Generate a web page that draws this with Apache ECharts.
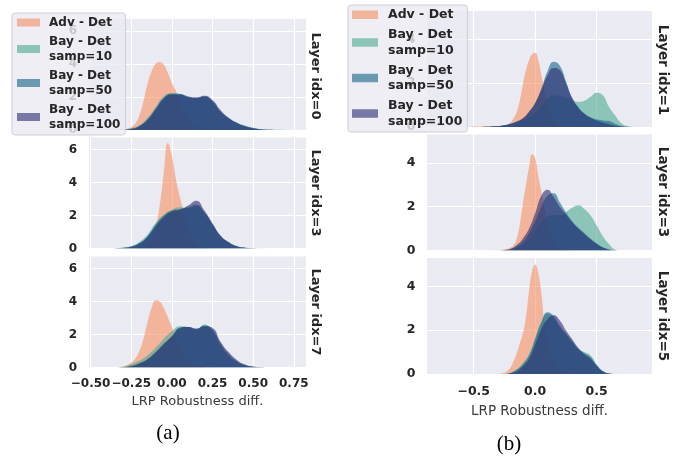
<!DOCTYPE html>
<html>
<head>
<meta charset="utf-8">
<script src="https://cdn.jsdelivr.net/npm/echarts@6/dist/echarts.min.js"></script>
<style>html,body{margin:0;padding:0;background:#fff}#c{width:692px;height:458px}</style>
</head>
<body>
<div id="c"></div>
<script>
// ---------------- DATA ----------------
const seriesNames = ['Adv - Det', 'Bay - Det\nsamp=10', 'Bay - Det\nsamp=50', 'Bay - Det\nsamp=100'];
const rowLabelsA = ['Layer idx=0', 'Layer idx=3', 'Layer idx=7'];
const rowLabelsB = ['Layer idx=1', 'Layer idx=3', 'Layer idx=5'];
const xTicksA = [-0.5, -0.25, 0, 0.25, 0.5, 0.75];
const yTicksA = [0, 2, 4, 6];
const xTicksB = [-0.5, 0, 0.5];
const yTicksB = [0, 2, 4];
const xLabel = 'LRP Robustness diff.';

// x grids of the density estimates
const xAdvA = [-0.35,-0.325,-0.3,-0.275,-0.25,-0.225,-0.2,-0.175,-0.15,-0.125,-0.1,-0.075,-0.05,-0.025,0,0.025,0.05,0.075,0.1,0.125,0.15,0.175,0.2,0.225,0.25];
const xBayA = [-0.35,-0.3,-0.25,-0.2,-0.15,-0.1,-0.05,0,0.05,0.1,0.15,0.2,0.25,0.3,0.35,0.4,0.45,0.5,0.55,0.6,0.65,0.7];
const xAdvB = [-0.55,-0.525,-0.5,-0.475,-0.45,-0.425,-0.4,-0.375,-0.35,-0.325,-0.3,-0.275,-0.25,-0.225,-0.2,-0.175,-0.15,-0.125,-0.1,-0.075,-0.05,-0.025,0,0.025,0.05,0.075,0.1,0.125,0.15,0.175,0.2,0.225,0.25,0.275,0.3];
const xBayB = [-0.55,-0.5,-0.45,-0.4,-0.35,-0.3,-0.25,-0.2,-0.15,-0.1,-0.05,0,0.05,0.1,0.15,0.2,0.25,0.3,0.35,0.4,0.45,0.5,0.55,0.6,0.65,0.7,0.75,0.8];

// (a) Layer idx=0
const advA0    = [0,0.01,0.03,0.08,0.18,0.4,0.9,1.75,2.8,3.55,4.0,4.13,3.95,3.45,2.85,2.35,1.7,1.15,0.7,0.4,0.22,0.1,0.05,0.02,0];
const bay10A0  = [0,0.02,0.1,0.3,0.75,1.4,2.05,2.25,2.2,2.05,1.95,2.0,1.7,1.1,0.72,0.45,0.27,0.13,0.05,0.02,0.01,0];
const bay50A0  = [0,0.01,0.07,0.25,0.65,1.3,1.95,2.2,2.18,2.02,1.95,2.03,1.73,1.1,0.7,0.43,0.25,0.12,0.04,0.01,0,0];
const bay100A0 = [0,0.01,0.06,0.22,0.6,1.25,1.9,2.15,2.15,2.0,1.97,2.08,1.82,1.2,0.74,0.42,0.22,0.1,0.03,0.01,0,0];
// (a) Layer idx=3
const advA3    = [0,0,0,0.01,0.02,0.03,0.05,0.09,0.2,0.55,1.3,2.6,4.6,6.4,5.6,4.2,3.1,2.1,1.2,0.6,0.28,0.12,0.05,0.02,0];
const bay10A3  = [0.02,0.06,0.15,0.4,0.85,1.55,2.05,2.35,2.5,2.45,2.55,2.15,1.45,0.75,0.4,0.15,0.06,0.02,0.01,0,0,0];
const bay50A3  = [0.01,0.04,0.12,0.33,0.75,1.45,2.0,2.3,2.4,2.5,2.65,2.2,1.48,0.76,0.38,0.14,0.05,0.02,0,0,0,0];
const bay100A3 = [0.01,0.03,0.1,0.3,0.7,1.35,1.9,2.25,2.35,2.6,2.9,2.3,1.52,0.77,0.37,0.13,0.04,0.01,0,0,0,0];
// (a) Layer idx=7
const advA7    = [0,0.02,0.06,0.15,0.3,0.55,1.0,1.75,2.75,3.6,4.08,4.0,3.6,3.05,2.45,1.9,1.3,0.8,0.45,0.22,0.1,0.04,0.02,0,0];
const bay10A7  = [0,0.05,0.2,0.42,0.75,1.2,1.75,2.2,2.5,2.45,2.3,2.6,2.2,1.3,0.7,0.32,0.12,0.04,0.01,0,0,0];
const bay50A7  = [0,0.02,0.1,0.28,0.52,0.95,1.45,1.9,2.42,2.45,2.35,2.55,2.3,1.45,0.8,0.38,0.15,0.05,0.01,0,0,0];
const bay100A7 = [0,0.01,0.07,0.22,0.48,0.9,1.4,1.88,2.38,2.45,2.35,2.5,2.4,1.55,0.92,0.46,0.18,0.06,0.02,0,0,0];

// (b) Layer idx=1
const advB1    = [0,0.01,0.02,0.02,0.02,0.03,0.03,0.03,0.04,0.04,0.05,0.06,0.08,0.12,0.22,0.4,0.7,1.2,1.95,2.6,3.05,3.32,3.38,3.05,2.4,1.7,1.1,0.65,0.35,0.17,0.08,0.04,0.02,0.01,0];
const bay10B1  = [0,0,0,0.01,0.02,0.04,0.08,0.13,0.2,0.3,0.45,0.65,0.95,1.3,1.45,1.42,1.35,1.25,1.15,1.2,1.38,1.57,1.45,0.92,0.52,0.18,0.04,0];
const bay50B1  = [0,0,0,0.01,0.02,0.04,0.08,0.15,0.25,0.4,0.7,1.1,1.75,2.55,2.98,2.8,2.1,1.3,0.9,0.62,0.45,0.35,0.3,0.27,0.15,0.05,0.01,0];
const bay100B1 = [0,0,0,0.01,0.02,0.04,0.08,0.15,0.25,0.4,0.7,1.1,1.7,2.35,2.7,2.6,2.0,1.35,0.9,0.6,0.42,0.3,0.2,0.12,0.06,0.02,0,0];
// (b) Layer idx=3
const advB3    = [0,0,0,0,0,0,0,0,0.01,0.01,0.02,0.03,0.05,0.08,0.14,0.25,0.55,1.2,2.15,3.0,3.8,4.4,4.2,3.4,2.7,2.0,1.35,0.85,0.5,0.27,0.13,0.06,0.03,0.01,0];
const bay10B3  = [0,0,0,0,0,0,0.01,0.04,0.12,0.28,0.55,0.9,1.3,1.55,1.62,1.6,1.75,1.95,2.07,1.9,1.6,1.15,0.65,0.3,0.05,0,0,0];
const bay50B3  = [0,0,0,0,0,0,0.02,0.06,0.18,0.4,0.8,1.35,2.0,2.5,2.62,2.2,1.75,1.35,1.05,0.8,0.55,0.33,0.15,0.05,0.01,0,0,0];
const bay100B3 = [0,0,0,0,0,0,0.02,0.08,0.25,0.55,1.0,1.7,2.5,2.78,2.45,2.0,1.65,1.3,1.0,0.75,0.5,0.3,0.14,0.05,0.01,0,0,0];
// (b) Layer idx=5
const advB5    = [0,0,0,0,0,0,0,0,0,0,0,0.02,0.06,0.15,0.3,0.6,0.95,1.4,1.85,2.6,3.8,4.7,5.0,4.6,3.7,2.3,1.5,0.95,0.55,0.3,0.15,0.07,0.03,0.01,0];
const bay10B5  = [0,0,0,0,0,0,0,0.06,0.22,0.5,0.9,1.65,2.4,2.75,2.55,2.15,1.8,1.45,1.15,1.0,0.85,0.45,0.15,0.03,0,0,0,0];
const bay50B5  = [0,0,0,0,0,0,0,0.05,0.2,0.45,0.85,1.6,2.35,2.82,2.65,2.2,1.85,1.5,1.15,0.95,0.78,0.4,0.12,0.02,0,0,0,0];
const bay100B5 = [0,0,0,0,0,0,0,0.03,0.12,0.35,0.7,1.35,2.05,2.5,2.68,2.45,2.0,1.6,1.2,0.9,0.7,0.38,0.12,0.02,0,0,0,0];

// ---------------- STYLE / LAYOUT ----------------
const fillColors   = ['#f99063', '#4daa91', '#156587', '#2a2c73'];
const legendColors = ['#f3b49c', '#8cc4b8', '#6a9ab2', '#7778a6'];
const FILL_OPACITY = 0.6;
const BG = '#eaeaf2';
const TXT = '#262626';

const panels = [
  { left: 89, width: 217, tops: [19, 137.5, 256.5], height: 111,
    xMin: -0.51, xMax: 0.825, yMax: 6.73, xTicks: xTicksA, yTicks: yTicksA, dec: 2,
    tickFont: 12, labelFont: 13, nameGap: 28, xMargin: 10, yMargin: 12,
    rows: rowLabelsA, rowX: 315, rowY: [76, 193, 312],
    xAdv: xAdvA, xBay: xBayA,
    data: [[advA0, bay10A0, bay50A0, bay100A0], [advA3, bay10A3, bay50A3, bay100A3], [advA7, bay10A7, bay50A7, bay100A7]],
    legend: { left: 12, top: 13, itemWidth: 23, itemHeight: 8, fontSize: 12, lineHeight: 15, itemGap: 4, padding: [2, 5, 3, 5], textPad: 4 },
    caption: '(a)', capX: 168, capY: 433 },
  { left: 427, width: 225, tops: [11, 134.5, 258], height: 116,
    xMin: -0.88, xMax: 0.95, yMax: 5.3, xTicks: xTicksB, yTicks: yTicksB, dec: 1,
    tickFont: 12.5, labelFont: 13.5, nameGap: 30, xMargin: 11, yMargin: 11.5,
    rows: rowLabelsB, rowX: 662.5, rowY: [70, 192, 316],
    xAdv: xAdvB, xBay: xBayB,
    data: [[advB1, bay10B1, bay50B1, bay100B1], [advB3, bay10B3, bay50B3, bay100B3], [advB5, bay10B5, bay50B5, bay100B5]],
    legend: { left: 348, top: 5, itemWidth: 26, itemHeight: 8.5, fontSize: 12.5, lineHeight: 15.5, itemGap: 4.5, padding: [2, 5, 3, 4], textPad: 5 },
    caption: '(b)', capX: 509, capY: 444 }
];

function fmtTick(v, dec) {
  const s = Math.abs(v).toFixed(dec);
  return (v < 0 ? '\u2212' : '') + s;
}

const grid = [], xAxis = [], yAxis = [], series = [], graphic = [], legend = [];
panels.forEach((p, pi) => {
  p.tops.forEach((top, ri) => {
    const gi = grid.length;
    const bottomRow = ri === p.tops.length - 1;
    grid.push({ left: p.left, top: top, width: p.width, height: p.height,
      show: true, backgroundColor: BG, borderWidth: 0, containLabel: false });
    xAxis.push({
      type: 'value', gridIndex: gi, min: p.xMin, max: p.xMax,
      axisLine: { show: false }, axisTick: { show: false, customValues: p.xTicks },
      splitLine: { show: true, lineStyle: { color: '#ffffff', width: 1.2 } },
      axisLabel: { show: bottomRow, customValues: p.xTicks, margin: p.xMargin,
        formatter: v => fmtTick(v, p.dec),
        fontFamily: 'DejaVu Sans', fontWeight: 'bold', fontSize: p.tickFont, color: TXT },
      name: bottomRow ? xLabel : '', nameLocation: 'middle', nameGap: p.nameGap,
      nameTextStyle: { fontFamily: 'DejaVu Sans', fontSize: p.labelFont, color: '#3a3a3a' }
    });
    yAxis.push({
      type: 'value', gridIndex: gi, min: 0, max: p.yMax,
      axisLine: { show: false }, axisTick: { show: false, customValues: p.yTicks },
      splitLine: { show: true, lineStyle: { color: '#ffffff', width: 1.2 } },
      axisLabel: { customValues: p.yTicks, margin: p.yMargin, formatter: v => String(v),
        fontFamily: 'DejaVu Sans', fontWeight: 'bold', fontSize: p.tickFont, color: TXT }
    });
    p.data[ri].forEach((ys, si) => {
      const xs = si === 0 ? p.xAdv : p.xBay;
      series.push({
        type: 'line', name: seriesNames[si], xAxisIndex: gi, yAxisIndex: gi,
        data: xs.map((x, k) => [x, ys[k]]),
        smooth: 0.5, showSymbol: false, symbol: 'none',
        lineStyle: { width: 0, color: fillColors[si] },
        itemStyle: { color: fillColors[si] },
        areaStyle: { color: fillColors[si], opacity: FILL_OPACITY },
        emphasis: { disabled: true }, silent: true, animation: false, clip: true
      });
    });
    graphic.push({ type: 'text', x: p.rowX, y: p.rowY[ri], rotation: -Math.PI / 2,
      style: { text: p.rows[ri], fill: TXT, font: 'bold ' + (p.labelFont) + 'px "DejaVu Sans"',
        textAlign: 'center', textVerticalAlign: 'middle' } });
  });
  graphic.push({ type: 'text', x: p.capX, y: p.capY,
    style: { text: p.caption, fill: '#000', font: '21px "Liberation Serif"',
      textAlign: 'center', textVerticalAlign: 'middle' } });
  const L = p.legend;
  legend.push({
    orient: 'vertical', left: L.left, top: L.top, icon: 'rect',
    itemWidth: L.itemWidth, itemHeight: L.itemHeight, itemGap: L.itemGap, padding: L.padding,
    backgroundColor: 'rgba(234,234,242,0.82)', borderColor: '#cfcfd6', borderWidth: 1, borderRadius: 3,
    selectedMode: false, z: 10,
    textStyle: { fontFamily: 'DejaVu Sans', fontWeight: 'bold', fontSize: L.fontSize,
      lineHeight: L.lineHeight, color: TXT, padding: [0, 0, 0, L.textPad] },
    data: seriesNames.map((n, i) => ({ name: n, itemStyle: { color: legendColors[i], opacity: 1 } }))
  });
});

const chart = echarts.init(document.getElementById('c'), null, { renderer: 'canvas', width: 692, height: 458 });
chart.setOption({ animation: false, backgroundColor: '#ffffff', grid, xAxis, yAxis, series, legend, graphic });
</script>
</body>
</html>
